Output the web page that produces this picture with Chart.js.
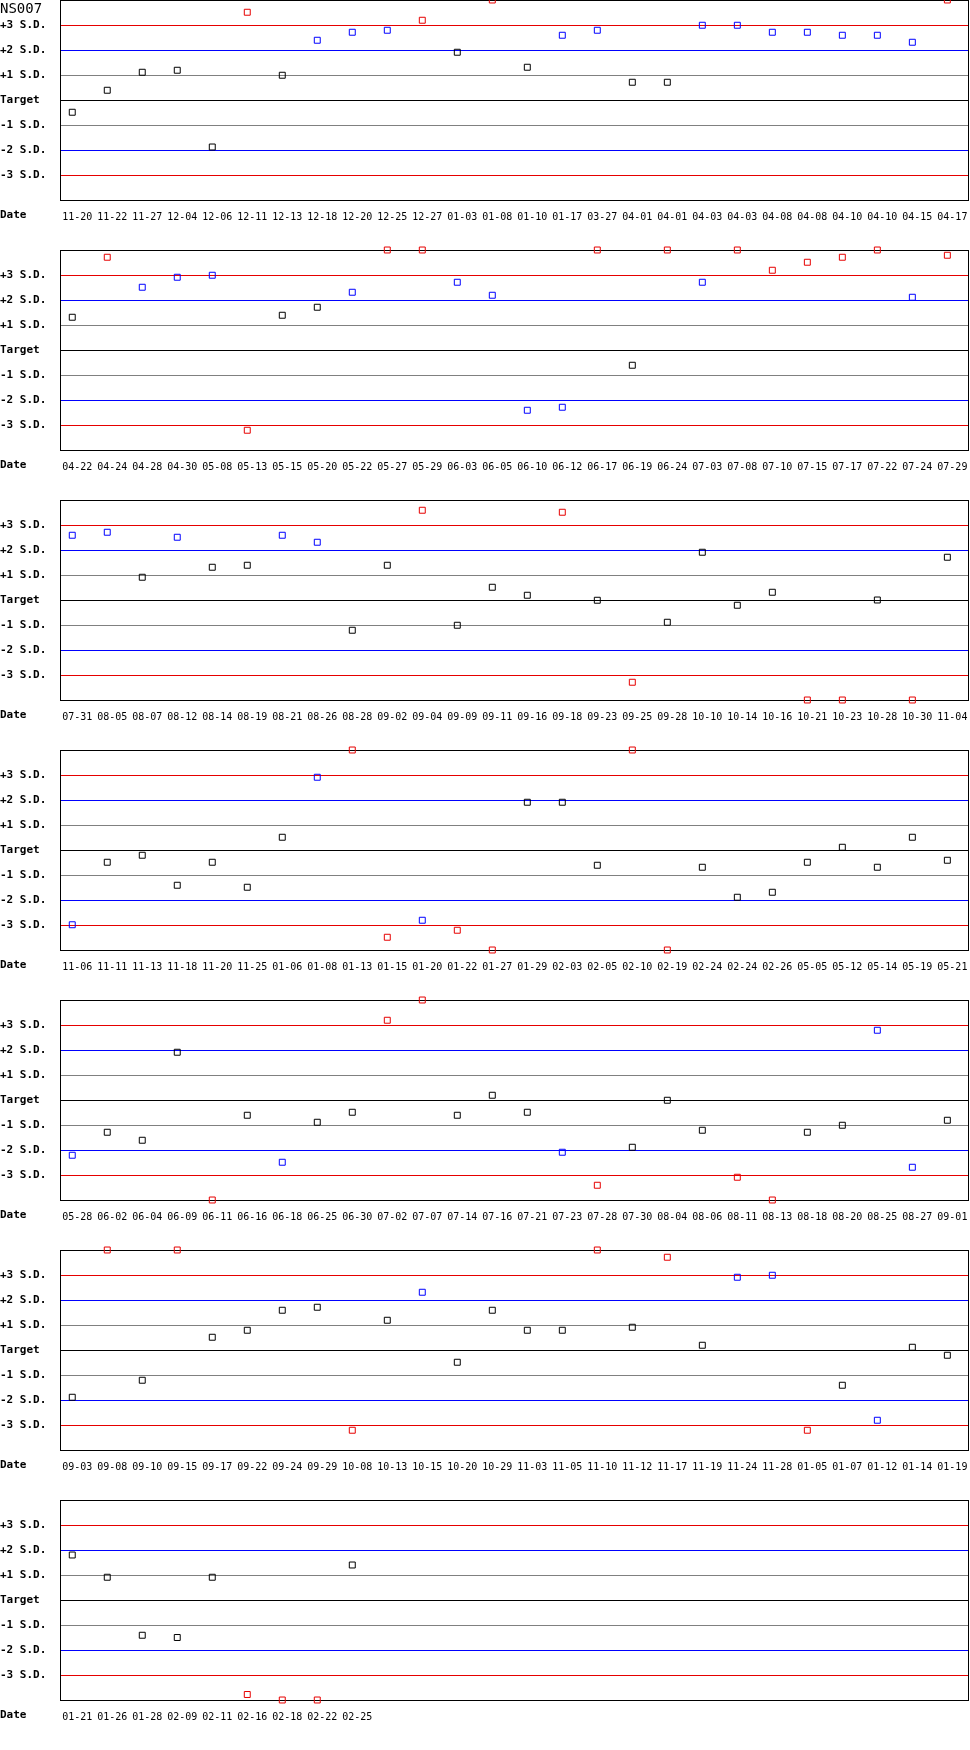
<!DOCTYPE html>
<html>
<head>
    <title>NS007</title>
    <script src="https://cdn.jsdelivr.net/npm/chart.js"></script>
    <style>
        body { margin: 0; background: #fff; overflow: hidden; }
        #page { position: relative; width: 970px; height: 1750px; overflow: hidden; }
        .panel { position: absolute; left: 0; width: 970px; height: 260px; }
        .title { position: absolute; left: 0; top: 1px; font: 14px 'DejaVu Sans Mono', monospace; line-height: 14px; color: #000; }
        .date { position: absolute; left: 0; font: bold 11px 'DejaVu Sans Mono', monospace; line-height: 11px; color: #000; }
    </style>
</head>
<body>
<div id="page"></div>

<script>
    // values are in S.D. from target; anything past +/-4 sits on the frame
    const dates1 = ['11-20','11-22','11-27','12-04','12-06','12-11','12-13','12-18','12-20','12-25','12-27','01-03','01-08',
                    '01-10','01-17','03-27','04-01','04-01','04-03','04-03','04-08','04-08','04-10','04-10','04-15','04-17'];
    const values1 = [-0.49, 0.39, 1.11, 1.19, -1.88, 3.51, 0.99, 2.39, 2.71, 2.79, 3.19, 1.91, 4,
                     1.31, 2.59, 2.79, 0.71, 0.71, 2.99, 2.99, 2.71, 2.71, 2.59, 2.59, 2.31, 4];

    const dates2 = ['04-22','04-24','04-28','04-30','05-08','05-13','05-15','05-20','05-22','05-27','05-29','06-03','06-05',
                    '06-10','06-12','06-17','06-19','06-24','07-03','07-08','07-10','07-15','07-17','07-22','07-24','07-29'];
    const values2 = [1.31, 3.71, 2.51, 2.91, 2.99, -3.21, 1.39, 1.71, 2.31, 4, 4, 2.71, 2.19,
                     -2.41, -2.29, 4, -0.61, 4, 2.71, 4, 3.19, 3.51, 3.71, 4, 2.11, 3.79];

    const dates3 = ['07-31','08-05','08-07','08-12','08-14','08-19','08-21','08-26','08-28','09-02','09-04','09-09','09-11',
                    '09-16','09-18','09-23','09-25','09-28','10-10','10-14','10-16','10-21','10-23','10-28','10-30','11-04'];
    const values3 = [2.59, 2.71, 0.91, 2.51, 1.31, 1.39, 2.59, 2.31, -1.21, 1.39, 3.59, -1.01, 0.51,
                     0.19, 3.51, -0.01, -3.29, -0.89, 1.91, -0.21, 0.31, -4, -4, 0, -4, 1.71];

    const dates4 = ['11-06','11-11','11-13','11-18','11-20','11-25','01-06','01-08','01-13','01-15','01-20','01-22','01-27',
                    '01-29','02-03','02-05','02-10','02-19','02-24','02-24','02-26','05-05','05-12','05-14','05-19','05-21'];
    const values4 = [-2.99, -0.49, -0.21, -1.41, -0.49, -1.49, 0.51, 2.91, 4, -3.49, -2.81, -3.21, -4,
                     1.91, 1.91, -0.61, 4, -4, -0.69, -1.89, -1.69, -0.49, 0.11, -0.69, 0.51, -0.41];

    const dates5 = ['05-28','06-02','06-04','06-09','06-11','06-16','06-18','06-25','06-30','07-02','07-07','07-14','07-16',
                    '07-21','07-23','07-28','07-30','08-04','08-06','08-11','08-13','08-18','08-20','08-25','08-27','09-01'];
    const values5 = [-2.21, -1.29, -1.61, 1.91, -4, -0.61, -2.49, -0.89, -0.49, 3.19, 4, -0.61, 0.19,
                     -0.49, -2.09, -3.41, -1.89, -0.01, -1.21, -3.09, -4, -1.29, -1.01, 2.79, -2.69, -0.81];

    const dates6 = ['09-03','09-08','09-10','09-15','09-17','09-22','09-24','09-29','10-08','10-13','10-15','10-20','10-29',
                    '11-03','11-05','11-10','11-12','11-17','11-19','11-24','11-28','01-05','01-07','01-12','01-14','01-19'];
    const values6 = [-1.89, 4, -1.21, 4, 0.51, 0.79, 1.59, 1.71, -3.21, 1.19, 2.31, -0.49, 1.59,
                     0.79, 0.79, 4, 0.91, 3.71, 0.19, 2.91, 2.99, -3.21, -1.41, -2.81, 0.11, -0.21];

    const dates7 = ['01-21','01-26','01-28','02-09','02-11','02-16','02-18','02-22','02-25'];
    const values7 = [1.8, 0.91, -1.41, -1.5, 0.91, -3.78, -4, -4, 1.4];

    const sdTicks = [3, 2, 1, 0, -1, -2, -3];
    const sdLabels = ['+3 S.D.', '+2 S.D.', '+1 S.D.', 'Target', '-1 S.D.', '-2 S.D.', '-3 S.D.'];

    const panels = [
        [dates1, values1], [dates2, values2], [dates3, values3], [dates4, values4],
        [dates5, values5], [dates6, values6], [dates7, values7]
    ];

    const RED = 'rgb(230,0,0)';
    const BLUE = '#0000ff';
    const GRAY = '#808080';

    function lineColor(v) {
        const a = Math.abs(v);
        if (a === 3) return RED;
        if (a === 2) return BLUE;
        if (a === 1) return GRAY;
        return '#000';
    }

    function pointColor(v) {
        const a = Math.abs(v);
        if (a > 3) return RED;
        if (a > 2) return BLUE;
        return '#000';
    }

    function noPad(s) {
        s.paddingTop = 0;
        s.paddingBottom = 0;
        s.paddingLeft = 0;
        s.paddingRight = 0;
    }

    // black frame round the plot area
    const frame = {
        id: 'frame',
        beforeDatasetsDraw(chart) {
            const a = chart.chartArea;
            const c = chart.ctx;
            c.save();
            c.strokeStyle = '#000';
            c.lineWidth = 1;
            c.strokeRect(a.left + 0.5, a.top + 0.5, a.right - a.left, a.bottom - a.top);
            c.restore();
        }
    };

    const page = document.getElementById('page');

    panels.forEach(([dates, values], p) => {
        // canvas starts 10px above the frame so points sitting on the top edge are not cut
        const div = document.createElement('div');
        div.className = 'panel';
        div.style.top = (p * 250 - 10) + 'px';
        const canvas = document.createElement('canvas');
        canvas.width = 970;
        canvas.height = 260;
        div.appendChild(canvas);
        page.appendChild(div);

        const dateLbl = document.createElement('div');
        dateLbl.className = 'date';
        dateLbl.style.top = (p * 250 + 209) + 'px';
        dateLbl.textContent = 'Date';
        page.appendChild(dateLbl);

        new Chart(canvas.getContext('2d'), {
            type: 'scatter',
            data: {
                datasets: [{
                    data: values.map((v, i) => ({ x: i, y: v })),
                    pointStyle: 'rect',
                    pointRadius: 4.2,
                    borderWidth: 1,
                    backgroundColor: 'rgba(0,0,0,0)',
                    borderColor: ctx => pointColor(ctx.raw ? ctx.raw.y : 0),
                    clip: false
                }]
            },
            options: {
                responsive: false,
                animation: false,
                events: [],
                layout: { autoPadding: false, padding: { left: 0, right: 2, top: 10, bottom: 0 } },
                plugins: { legend: { display: false }, tooltip: { enabled: false } },
                scales: {
                    x: {
                        type: 'linear',
                        min: -0.35,
                        max: 25.59,
                        afterBuildTicks: s => { s.ticks = dates.map((d, i) => ({ value: i })); },
                        afterFit: s => { s.height = 50; noPad(s); },
                        grid: { display: false, drawTicks: false },
                        border: { display: false },
                        ticks: {
                            autoSkip: false,
                            maxRotation: 0,
                            labelOffset: 5,
                            padding: 11,
                            color: '#000',
                            font: { family: "'DejaVu Sans Mono', monospace", size: 10 },
                            callback: v => dates[v]
                        }
                    },
                    y: {
                        min: -4,
                        max: 4,
                        afterBuildTicks: s => { s.ticks = sdTicks.map(v => ({ value: v })); },
                        afterFit: s => { s.width = 60; noPad(s); },
                        grid: { color: ctx => lineColor(ctx.tick.value), lineWidth: 1, drawTicks: false },
                        border: { display: false },
                        ticks: {
                            crossAlign: 'far',
                            padding: 0,
                            color: '#000',
                            font: { family: "'DejaVu Sans Mono', monospace", size: 11, weight: 'bold' },
                            callback: v => sdLabels[sdTicks.indexOf(v)]
                        }
                    }
                }
            },
            plugins: [frame]
        });
    });

    const title = document.createElement('div');
    title.className = 'title';
    title.textContent = 'NS007';
    page.appendChild(title);
</script>
</body>
</html>
